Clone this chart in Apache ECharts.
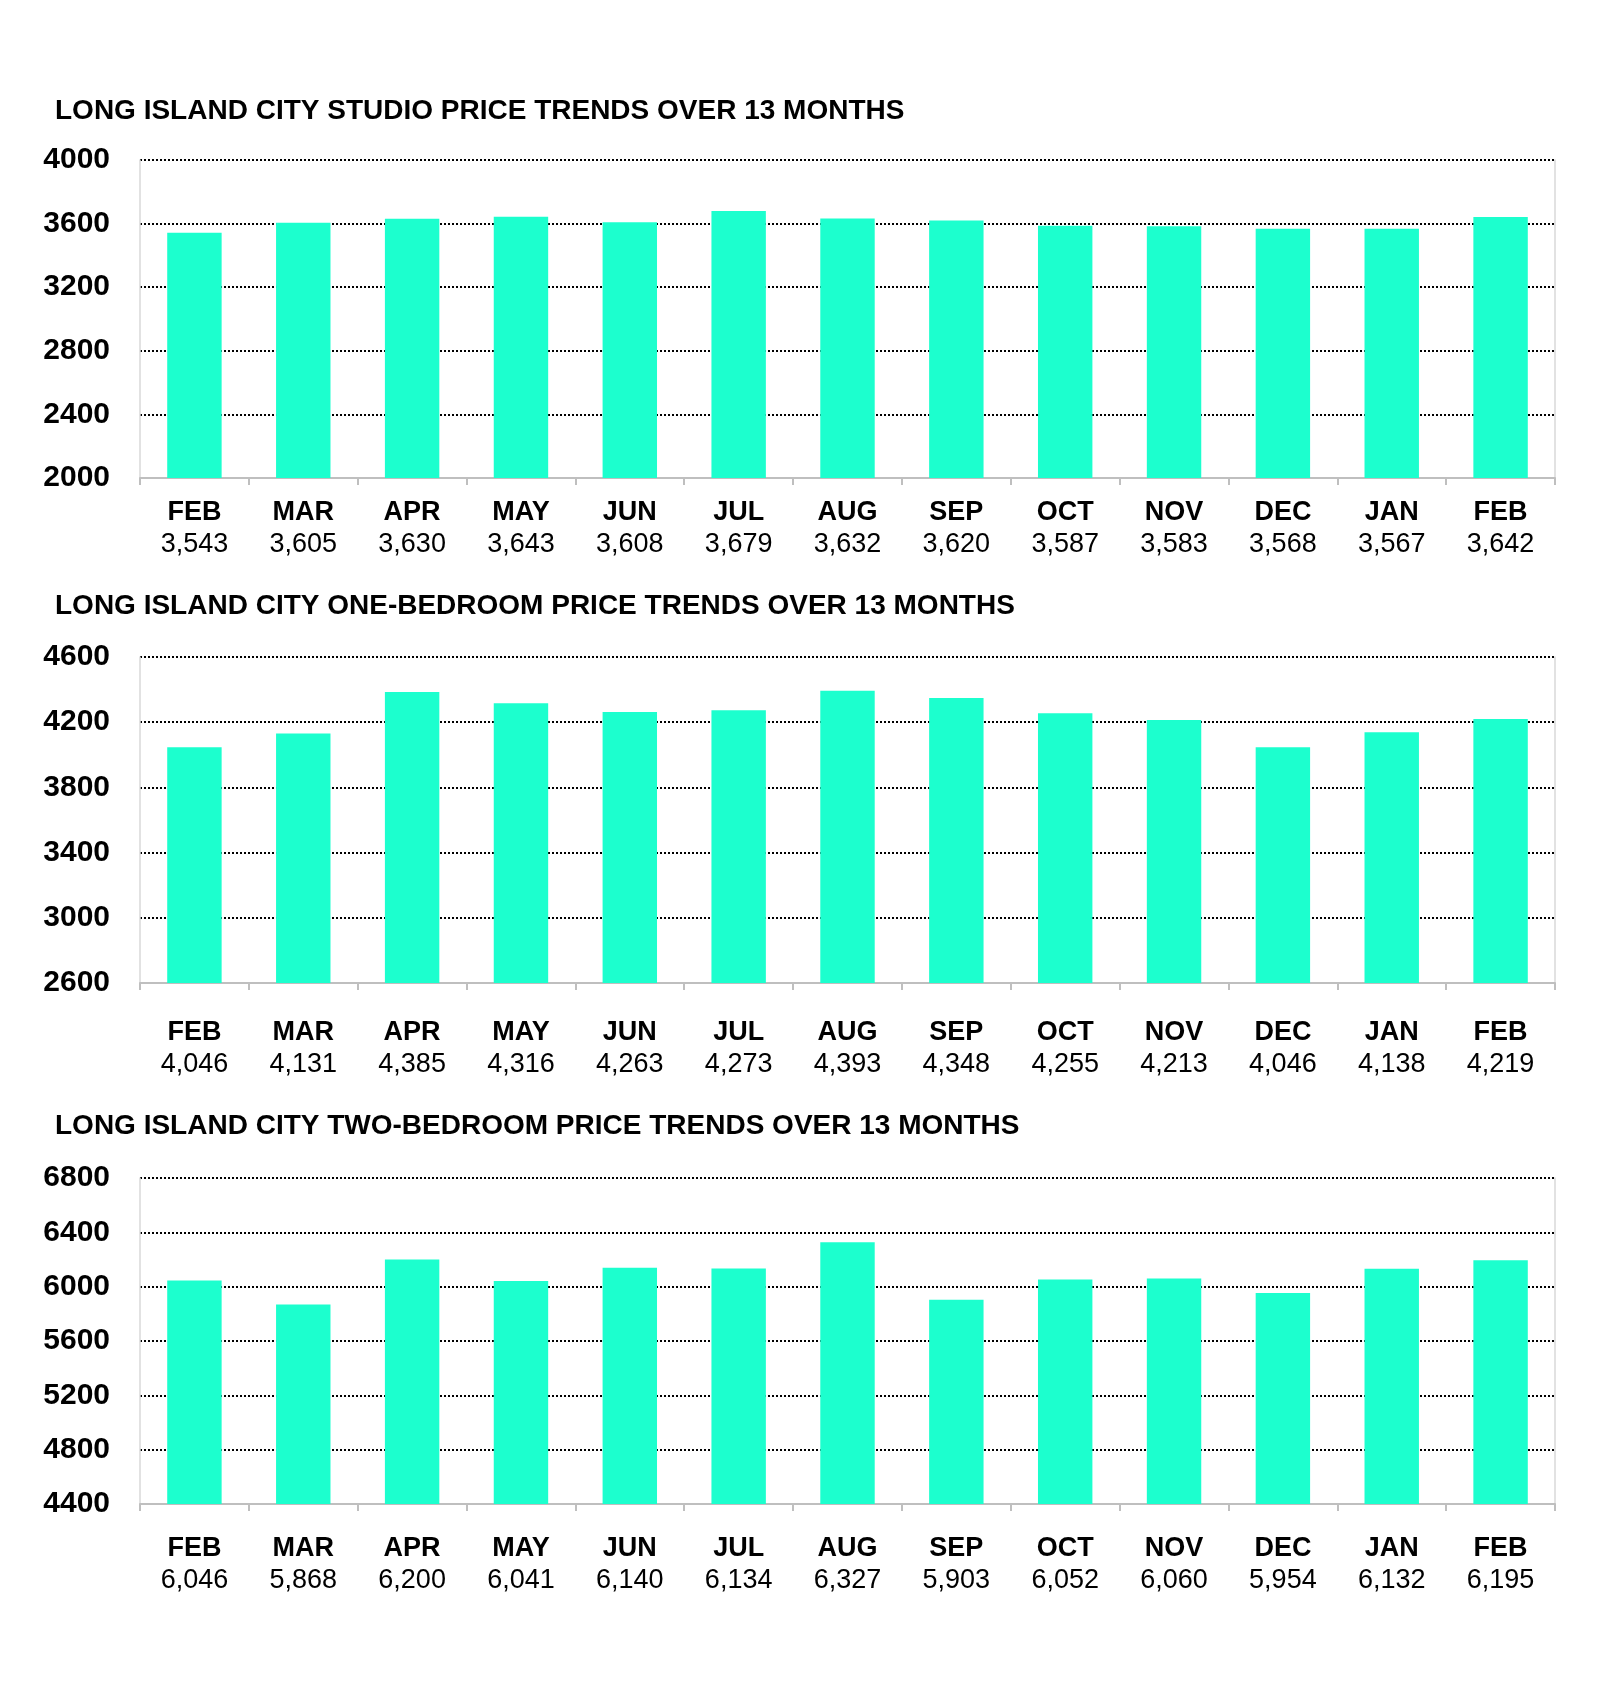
<!DOCTYPE html>
<html>
<head>
<meta charset="utf-8">
<script src="https://cdn.jsdelivr.net/npm/echarts@6/dist/echarts.min.js"></script>
<style>
html,body{margin:0;padding:0;background:#fff;}
#c{width:1600px;height:1682px;}
</style>
</head>
<body>
<div id="c"></div>
<script>
const months = ["FEB","MAR","APR","MAY","JUN","JUL","AUG","SEP","OCT","NOV","DEC","JAN","FEB"];
const studioValues = [3543,3605,3630,3643,3608,3679,3632,3620,3587,3583,3568,3567,3642];
const oneBedValues = [4046,4131,4385,4316,4263,4273,4393,4348,4255,4213,4046,4138,4219];
const twoBedValues = [6046,5868,6200,6041,6140,6134,6327,5903,6052,6060,5954,6132,6195];
const titles = [
  "LONG ISLAND CITY STUDIO PRICE TRENDS OVER 13 MONTHS",
  "LONG ISLAND CITY ONE-BEDROOM PRICE TRENDS OVER 13 MONTHS",
  "LONG ISLAND CITY TWO-BEDROOM PRICE TRENDS OVER 13 MONTHS"
];
const yRanges = [{min:2000,max:4000,interval:400},{min:2600,max:4600,interval:400},{min:4400,max:6800,interval:400}];

const FONT = "'Liberation Sans', Arial, sans-serif";
const seriesData = [studioValues, oneBedValues, twoBedValues];
const gridTops = [160, 657, 1178];
const gridHeights = [318, 326, 326];
const titleCenters = [111, 606, 1126];
const labelMargins = [19, 34, 29];

const fmt = v => v.toLocaleString('en-US');

const option = {
  backgroundColor: '#fff',
  animation: false,
  title: [], grid: [], xAxis: [], yAxis: [], series: []
};

for (let i = 0; i < 3; i++) {
  const vals = seriesData[i];
  option.title.push({
    text: titles[i], left: 55, top: titleCenters[i] - 15, padding: 0,
    textStyle: {fontFamily: FONT, fontWeight: 'bold', fontSize: 28, color: '#000', lineHeight: 30}
  });
  option.grid.push({left: 140, top: gridTops[i], width: 1415, height: gridHeights[i], containLabel: false});
  option.xAxis.push({
    type: 'category', gridIndex: i, data: months, boundaryGap: true,
    axisLine: {show: true, lineStyle: {color: '#BFBFBF', width: 2}},
    axisTick: {show: true, length: 7, lineStyle: {color: '#BFBFBF', width: 2}},
    axisLabel: {
      interval: 0, margin: labelMargins[i],
      formatter: (value, idx) => '{m|' + value + '}\n{v|' + fmt(vals[idx]) + '}',
      rich: {
        m: {fontFamily: FONT, fontWeight: 'bold', fontSize: 27, color: '#000', lineHeight: 32},
        v: {fontFamily: FONT, fontWeight: 'normal', fontSize: 27, color: '#000', lineHeight: 32}
      }
    },
    splitLine: {show: false}
  });
  option.yAxis.push({
    type: 'value', gridIndex: i, min: yRanges[i].min, max: yRanges[i].max, interval: yRanges[i].interval,
    axisLine: {show: true, lineStyle: {color: '#D9D9D9', width: 1.5}},
    axisTick: {show: false},
    axisLabel: {margin: 30, fontFamily: FONT, fontWeight: 'bold', fontSize: 30, color: '#000', formatter: v => String(v), padding: [4, 0, 0, 0]},
    splitLine: {show: true, lineStyle: {color: '#000', width: 2, type: [2, 2]}}
  });
  option.yAxis.push({
    type: 'value', gridIndex: i, position: 'right', min: yRanges[i].min, max: yRanges[i].max, interval: yRanges[i].interval,
    axisLine: {show: true, lineStyle: {color: '#D9D9D9', width: 1.5}},
    axisTick: {show: false}, axisLabel: {show: false}, splitLine: {show: false}
  });
  option.series.push({
    type: 'bar', xAxisIndex: i, yAxisIndex: i * 2, data: vals,
    barWidth: '50%', itemStyle: {color: '#1CFFCE'}, silent: true
  });
}

const chart = echarts.init(document.getElementById('c'));
chart.setOption(option);
</script>
</body>
</html>
